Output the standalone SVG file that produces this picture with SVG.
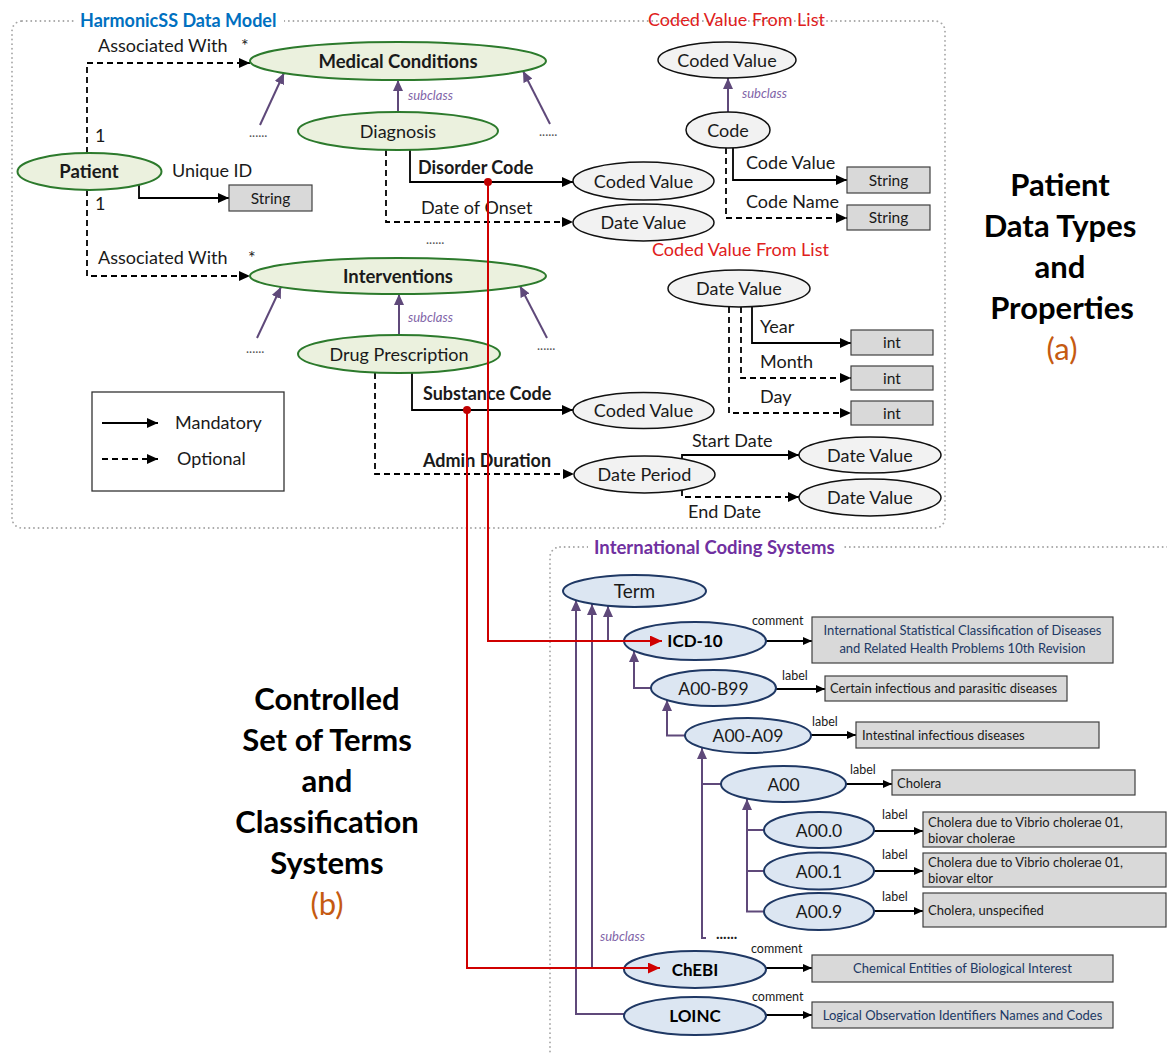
<svg xmlns="http://www.w3.org/2000/svg" width="1167" height="1054" viewBox="0 0 1167 1054">
<defs>
  <marker id="ah" markerUnits="userSpaceOnUse" markerWidth="12" markerHeight="10" refX="11" refY="5" orient="auto"><path d="M0,0 L11,5 L0,10 z" fill="#000"/></marker>
  <marker id="ahs" markerUnits="userSpaceOnUse" markerWidth="9" markerHeight="8" refX="9" refY="4" orient="auto"><path d="M0,0 L9,4 L0,8 z" fill="#000"/></marker>
  <marker id="ahp" markerUnits="userSpaceOnUse" markerWidth="11" markerHeight="10" refX="11" refY="5" orient="auto"><path d="M0,0 L11,5 L0,10 z" fill="#5F497A"/></marker>
  <marker id="ahr" markerUnits="userSpaceOnUse" markerWidth="12" markerHeight="11" refX="12" refY="5.5" orient="auto"><path d="M0,0 L12,5.5 L0,11 z" fill="#D00000"/></marker>
</defs>
<style>
  text { font-family: Lato, "Liberation Sans", sans-serif; fill: #1a1a1a; }
  .n { font-size: 18px; text-anchor: middle; }
  .nb { font-size: 18.5px; font-weight: bold; text-anchor: middle; }
  .nc { font-size: 17.5px; text-anchor: middle; }
  .ncb { font-size: 17px; font-weight: bold; text-anchor: middle; fill: #000; }
  .lbl { font-size: 18px; }
  .lb { font-size: 18px; font-weight: bold; }
  .sub { font-size: 13px; font-style: italic; fill: #7F64A8; }
  .dots { font-size: 13px; fill: #555; }
  .tiny { font-size: 12.5px; }
  .bt { font-size: 13px; }
  .bt-nav { font-size: 13px; fill: #203864; text-anchor: middle; }
  .prim { font-size: 15.5px; text-anchor: middle; }
  .big { font-size: 31px; font-weight: bold; text-anchor: middle; fill: #000; }
  .tag { font-size: 31px; text-anchor: middle; fill: #C55A11; }
  .red { font-size: 18px; fill: #E02020; }
  .g { fill: #EBF1DE; stroke: #2C7A2C; stroke-width: 2; }
  .gr { fill: #F2F2F2; stroke: #111; stroke-width: 1.5; }
  .bl { fill: #DCE6F2; stroke: #1F3864; stroke-width: 2; }
  .bx { fill: #D9D9D9; stroke: #404040; stroke-width: 1.2; }
  .s { stroke: #000; stroke-width: 1.8; fill: none; }
  .d { stroke-dasharray: 6 4; }
  .p { stroke: #5F497A; stroke-width: 2; fill: none; }
  .r { stroke: #D00000; stroke-width: 2; fill: none; }
  .frame { fill: none; stroke: #A6A6A6; stroke-width: 1.8; stroke-dasharray: 0.1 4.5; stroke-linecap: round; }
</style>

<rect width="1167" height="1054" fill="#fff"/>

<!-- dotted section frames -->
<g id="frames">
  <rect class="frame" x="12" y="21" width="933" height="507" rx="10"/>
  <rect x="74" y="9" width="210" height="24" fill="#fff"/>
  <text x="80" y="27" style="font-size:18px;font-weight:bold;fill:#0070C0">HarmonicSS Data Model</text>
  <text x="648" y="26" class="red">Coded Value From List</text>
  <rect class="frame" x="550" y="547" width="640" height="560" rx="10"/>
  <rect x="588" y="535" width="254" height="24" fill="#fff"/>
  <text x="594" y="554" style="font-size:18.5px;font-weight:bold;fill:#7030A0">International Coding Systems</text>
</g>

<!-- side headings -->
<g id="heading-a">
  <text x="1060" y="196" class="big">Patient</text>
  <text x="1060" y="237" class="big">Data Types</text>
  <text x="1060" y="278" class="big">and</text>
  <text x="1062" y="319" class="big">Properties</text>
  <text x="1062" y="360" class="tag">(a)</text>
</g>
<g id="heading-b">
  <text x="327" y="710" class="big">Controlled</text>
  <text x="327" y="751" class="big">Set of Terms</text>
  <text x="327" y="792" class="big">and</text>
  <text x="327" y="833" class="big">Classification</text>
  <text x="327" y="874" class="big">Systems</text>
  <text x="327" y="915" class="tag">(b)</text>
</g>

<!-- connectors -->
<g id="connectors">
  <!-- patient associations -->
  <path class="s d" d="M87,153 V63 H250" marker-end="url(#ah)"/>
  <path class="s d" d="M87,190 V276 H250" marker-end="url(#ah)"/>
  <path class="s" d="M139,185 V198 H229" marker-end="url(#ah)"/>
  <text x="98" y="52" class="lbl">Associated With</text>
  <text x="241" y="52" class="lbl">*</text>
  <text x="98" y="264" class="lbl">Associated With</text>
  <text x="248" y="264" class="lbl">*</text>
  <text x="95" y="142" class="lbl">1</text>
  <text x="95" y="210" class="lbl">1</text>
  <text x="172" y="177" class="lbl">Unique ID</text>

  <!-- subclass links, data model -->
  <path class="p" d="M260,125 L284,73" marker-end="url(#ahp)"/>
  <path class="p" d="M550,124 L523,71" marker-end="url(#ahp)"/>
  <path class="p" d="M398,112 V80" marker-end="url(#ahp)"/>
  <path class="p" d="M257,338 L281,287" marker-end="url(#ahp)"/>
  <path class="p" d="M547,338 L520,286" marker-end="url(#ahp)"/>
  <path class="p" d="M399,335 V294" marker-end="url(#ahp)"/>
  <path class="p" d="M728,112 V78" marker-end="url(#ahp)"/>
  <text x="408" y="100" class="sub">subclass</text>
  <text x="408" y="322" class="sub">subclass</text>
  <text x="742" y="98" class="sub">subclass</text>
  <text x="249" y="137" class="dots">......</text>
  <text x="539" y="136" class="dots">......</text>
  <text x="246" y="353" class="dots">......</text>
  <text x="537" y="350" class="dots">......</text>
  <text x="426" y="244" class="dots">......</text>

  <!-- diagnosis properties -->
  <path class="s" d="M410,150 V182 H573" marker-end="url(#ah)"/>
  <path class="s d" d="M386,150 V222 H573" marker-end="url(#ah)"/>
  <text x="418" y="174" class="lb">Disorder Code</text>
  <text x="421" y="214" class="lbl">Date of Onset</text>

  <!-- code properties -->
  <path class="s" d="M733,148 V180 H847" marker-end="url(#ah)"/>
  <path class="s d" d="M726,148 V218 H847" marker-end="url(#ah)"/>
  <text x="746" y="169" class="lbl">Code Value</text>
  <text x="746" y="208" class="lbl">Code Name</text>
  <text x="652" y="256" class="red">Coded Value From List</text>

  <!-- date value properties -->
  <path class="s" d="M752,307 V343 H851" marker-end="url(#ah)"/>
  <path class="s d" d="M741,307 V378 H851" marker-end="url(#ah)"/>
  <path class="s d" d="M729,307 V413 H851" marker-end="url(#ah)"/>
  <text x="760" y="333" class="lbl">Year</text>
  <text x="760" y="368" class="lbl">Month</text>
  <text x="760" y="403" class="lbl">Day</text>

  <!-- drug prescription properties -->
  <path class="s" d="M412,373 V410 H573" marker-end="url(#ah)"/>
  <path class="s d" d="M375,373 V474 H574" marker-end="url(#ah)"/>
  <text x="423" y="400" class="lb">Substance Code</text>
  <text x="423" y="467" class="lb">Admin Duration</text>

  <!-- date period properties -->
  <path class="s" d="M682,459 V455 H799" marker-end="url(#ah)"/>
  <path class="s d" d="M682,490 V497 H799" marker-end="url(#ah)"/>
  <text x="692" y="447" class="lbl">Start Date</text>
  <text x="688" y="518" class="lbl">End Date</text>

  <!-- coding system hierarchy -->
  <path class="p" d="M624,1014 H576 V600" marker-end="url(#ahp)"/>
  <path class="p" d="M624,968 H592 V604" marker-end="url(#ahp)"/>
  <path class="p" d="M624,641 H608 V606" marker-end="url(#ahp)"/>
  <path class="p" d="M651,688 H634 V651" marker-end="url(#ahp)"/>
  <path class="p" d="M685,735.5 H667 V700" marker-end="url(#ahp)"/>
  <path class="p" d="M721,784 H702 M706,938 H702 V748" marker-end="url(#ahp)"/>
  <path class="p" d="M764,830 H747 M764,871 H747 M764,911.5 H747 V799" marker-end="url(#ahp)"/>
  <text x="716" y="939" style="font-size:15px;font-weight:bold;fill:#222">......</text>
  <text x="600" y="941" class="sub">subclass</text>

  <!-- annotation links -->
  <path class="s" d="M766,641 H812" marker-end="url(#ahs)"/>
  <path class="s" d="M776,689 H825" marker-end="url(#ahs)"/>
  <path class="s" d="M811,735 H856" marker-end="url(#ahs)"/>
  <path class="s" d="M846,784 H892" marker-end="url(#ahs)"/>
  <path class="s" d="M874,831 H923" marker-end="url(#ahs)"/>
  <path class="s" d="M874,871 H923" marker-end="url(#ahs)"/>
  <path class="s" d="M874,911 H923" marker-end="url(#ahs)"/>
  <path class="s" d="M766,968 H812" marker-end="url(#ahs)"/>
  <path class="s" d="M766,1015 H812" marker-end="url(#ahs)"/>
  <text x="752" y="625" class="tiny">comment</text>
  <text x="782" y="680" class="tiny">label</text>
  <text x="812" y="726" class="tiny">label</text>
  <text x="850" y="774" class="tiny">label</text>
  <text x="882" y="819" class="tiny">label</text>
  <text x="882" y="859" class="tiny">label</text>
  <text x="882" y="901" class="tiny">label</text>
  <text x="751" y="953" class="tiny">comment</text>
  <text x="752" y="1001" class="tiny">comment</text>
</g>

<!-- data model nodes -->
<g id="medical-conditions"><ellipse class="g" cx="398" cy="61" rx="148" ry="19"/><text x="398" y="67.5" class="nb">Medical Conditions</text></g>
<g id="diagnosis"><ellipse class="g" cx="398" cy="131" rx="100" ry="19"/><text x="398" y="137.5" class="n">Diagnosis</text></g>
<g id="patient"><ellipse class="g" cx="89.5" cy="171.5" rx="72" ry="18.5"/><text x="89" y="178" class="nb">Patient</text></g>
<g id="interventions"><ellipse class="g" cx="398" cy="276" rx="148" ry="18"/><text x="398" y="282.5" class="nb">Interventions</text></g>
<g id="drug-prescription"><ellipse class="g" cx="399" cy="354" rx="101" ry="19"/><text x="399" y="360.5" class="n">Drug Prescription</text></g>
<g id="unique-id-string"><rect class="bx" x="229" y="185" width="83" height="26"/><text x="270.5" y="203.5" class="prim">String</text></g>
<g id="disorder-coded-value"><ellipse class="gr" cx="643.5" cy="181" rx="70.5" ry="19"/><text x="643.5" y="187.5" class="n">Coded Value</text></g>
<g id="onset-date-value"><ellipse class="gr" cx="643.5" cy="222.5" rx="70.5" ry="18.5"/><text x="643.5" y="229" class="n">Date Value</text></g>
<g id="coded-value"><ellipse class="gr" cx="727" cy="60" rx="69" ry="18"/><text x="727" y="66.5" class="n">Coded Value</text></g>
<g id="code"><ellipse class="gr" cx="728" cy="130" rx="42" ry="18"/><text x="728" y="136.5" class="n">Code</text></g>
<g id="code-value-string"><rect class="bx" x="847" y="167" width="83" height="26"/><text x="888.5" y="185.5" class="prim">String</text></g>
<g id="code-name-string"><rect class="bx" x="847" y="205" width="83" height="25"/><text x="888.5" y="223" class="prim">String</text></g>
<g id="date-value"><ellipse class="gr" cx="739" cy="288.5" rx="71" ry="18.5"/><text x="739" y="295" class="n">Date Value</text></g>
<g id="year-int"><rect class="bx" x="851" y="330" width="82" height="25"/><text x="892" y="348" class="prim">int</text></g>
<g id="month-int"><rect class="bx" x="851" y="366" width="82" height="24"/><text x="892" y="383.5" class="prim">int</text></g>
<g id="day-int"><rect class="bx" x="851" y="401" width="82" height="24"/><text x="892" y="418.5" class="prim">int</text></g>
<g id="substance-coded-value"><ellipse class="gr" cx="643.5" cy="410.5" rx="70.5" ry="18"/><text x="643.5" y="417" class="n">Coded Value</text></g>
<g id="date-period"><ellipse class="gr" cx="644.5" cy="474.5" rx="70.5" ry="18.5"/><text x="644.5" y="481" class="n">Date Period</text></g>
<g id="start-date-value"><ellipse class="gr" cx="870" cy="455" rx="71" ry="18"/><text x="870" y="461.5" class="n">Date Value</text></g>
<g id="end-date-value"><ellipse class="gr" cx="870" cy="497.5" rx="71" ry="18.5"/><text x="870" y="504" class="n">Date Value</text></g>

<g id="legend">
  <rect x="92" y="392" width="192" height="99" fill="#fff" stroke="#333" stroke-width="1.3"/>
  <path class="s" d="M102,423 H158" marker-end="url(#ah)"/>
  <path class="s d" d="M102,459 H158" marker-end="url(#ah)"/>
  <text x="175" y="429" class="lbl">Mandatory</text>
  <text x="177" y="465" class="lbl">Optional</text>
</g>

<!-- coding system nodes -->
<g id="term"><ellipse class="bl" cx="634.5" cy="591" rx="71.5" ry="16"/><text x="634.5" y="597.5" class="nc" style="font-size:19px">Term</text></g>
<g id="icd-10"><ellipse class="bl" cx="695" cy="641" rx="71" ry="19"/><text x="695" y="647" class="ncb">ICD-10</text></g>
<g id="a00-b99"><ellipse class="bl" cx="713.5" cy="688" rx="62.5" ry="18"/><text x="713.5" y="694.5" class="nc">A00-B99</text></g>
<g id="a00-a09"><ellipse class="bl" cx="748" cy="735.5" rx="63" ry="17.5"/><text x="748" y="742" class="nc">A00-A09</text></g>
<g id="a00"><ellipse class="bl" cx="783.5" cy="784" rx="62.5" ry="18"/><text x="783.5" y="790.5" class="nc">A00</text></g>
<g id="a00-0"><ellipse class="bl" cx="819" cy="830" rx="55" ry="18"/><text x="819" y="836.5" class="nc">A00.0</text></g>
<g id="a00-1"><ellipse class="bl" cx="819" cy="871" rx="55" ry="18.5"/><text x="819" y="877.5" class="nc">A00.1</text></g>
<g id="a00-9"><ellipse class="bl" cx="819" cy="911.5" rx="55" ry="18.5"/><text x="819" y="918" class="nc">A00.9</text></g>
<g id="chebi"><ellipse class="bl" cx="695" cy="969.5" rx="71" ry="18.5"/><text x="695" y="975.5" class="ncb">ChEBI</text></g>
<g id="loinc"><ellipse class="bl" cx="695" cy="1016" rx="71" ry="19"/><text x="695" y="1022" class="ncb">LOINC</text></g>

<g id="icd-10-comment"><rect class="bx" x="812" y="617" width="301" height="46"/>
  <text x="962.5" y="635" class="bt-nav">International Statistical Classification of Diseases</text>
  <text x="962.5" y="652.5" class="bt-nav">and Related Health Problems 10th Revision</text></g>
<g id="a00-b99-label"><rect class="bx" x="825" y="676" width="242" height="25"/><text x="830" y="693" class="bt">Certain infectious and parasitic diseases</text></g>
<g id="a00-a09-label"><rect class="bx" x="856" y="722" width="243" height="26"/><text x="862" y="739.5" class="bt">Intestinal infectious diseases</text></g>
<g id="a00-label"><rect class="bx" x="892" y="770" width="243" height="25"/><text x="897" y="787.5" class="bt">Cholera</text></g>
<g id="a00-0-label"><rect class="bx" x="923" y="812" width="243" height="35"/>
  <text x="928" y="827" class="bt">Cholera due to Vibrio cholerae 01,</text>
  <text x="928" y="843" class="bt">biovar cholerae</text></g>
<g id="a00-1-label"><rect class="bx" x="923" y="853" width="243" height="34"/>
  <text x="928" y="867" class="bt">Cholera due to Vibrio cholerae 01,</text>
  <text x="928" y="883" class="bt">biovar eltor</text></g>
<g id="a00-9-label"><rect class="bx" x="923" y="893" width="243" height="34"/><text x="928" y="914.5" class="bt">Cholera, unspecified</text></g>
<g id="chebi-comment"><rect class="bx" x="812" y="955" width="301" height="27"/><text x="962.5" y="973" class="bt-nav">Chemical Entities of Biological Interest</text></g>
<g id="loinc-comment"><rect class="bx" x="812" y="1002" width="301" height="26"/><text x="962.5" y="1019.5" class="bt-nav">Logical Observation Identifiers Names and Codes</text></g>

<!-- term bindings from the data model to the coding systems -->
<g id="bindings">
  <path class="r" d="M488,182 V641 H662" marker-end="url(#ahr)"/>
  <path class="r" d="M467,410 V968 H660" marker-end="url(#ahr)"/>
  <circle cx="488" cy="182" r="4" fill="#C00000"/>
  <circle cx="467" cy="410" r="4" fill="#C00000"/>
</g>
</svg>
